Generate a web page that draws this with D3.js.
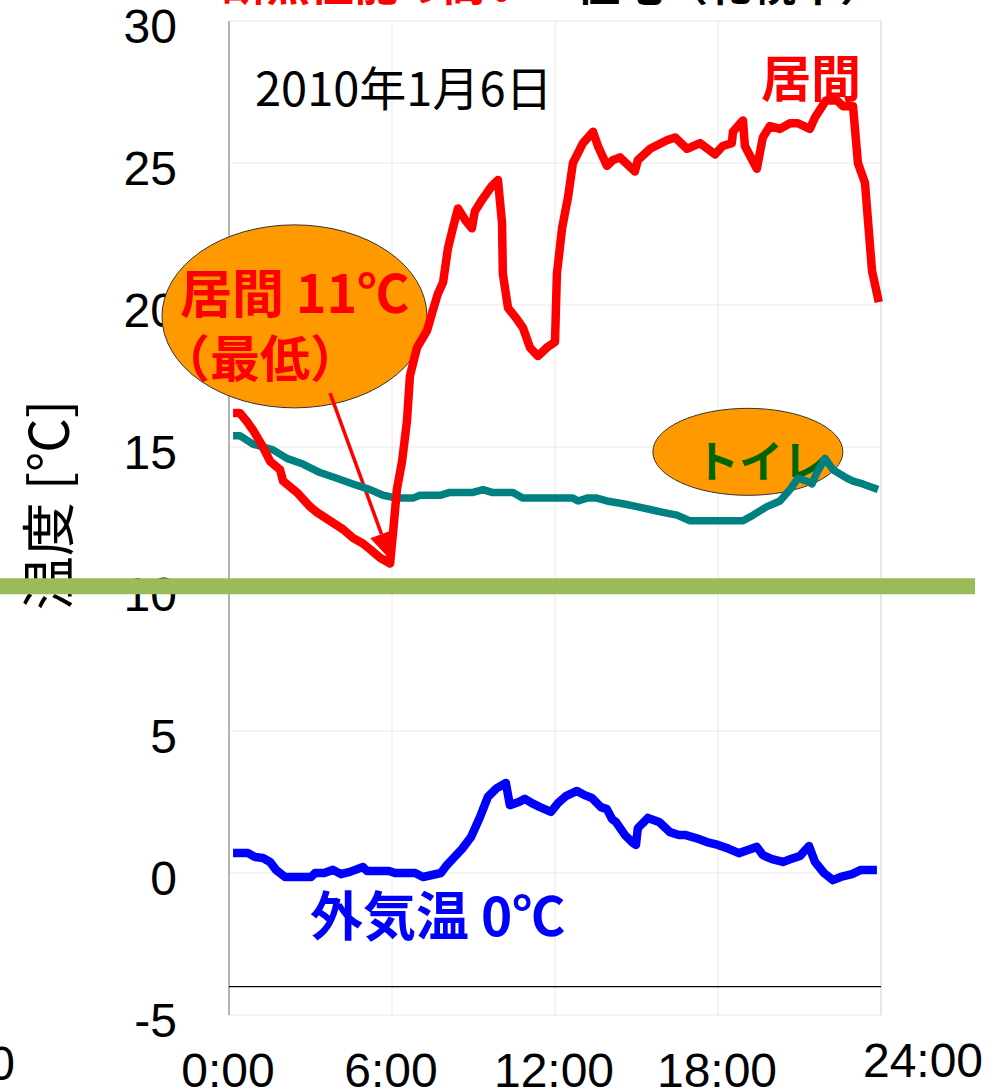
<!DOCTYPE html>
<html>
<head>
<meta charset="utf-8">
<script src="https://cdn.jsdelivr.net/npm/d3@7"></script>
<style>
  html, body { margin: 0; padding: 0; background: #fff; }
  svg { display: block; }
</style>
</head>
<body>
<svg id="chart" width="1007" height="1092"></svg>
<script>
// Living room (居間) temperature, hours since 0:00 and °C
const roomHours = [0.15,0.40,0.66,0.88,1.25,1.51,1.88,1.99,2.50,2.98,3.24,3.72,4.20,4.56,4.93,5.19,5.56,5.93,
  6.04,6.18,6.37,6.55,6.66,6.92,7.29,7.47,7.69,7.88,8.06,8.24,8.43,8.69,8.94,9.05,9.31,9.68,9.90,
  10.05,10.08,10.27,10.60,10.82,11.08,11.37,11.70,12.00,12.07,12.26,12.48,12.66,13.03,13.40,13.58,
  13.91,14.13,14.39,14.94,15.05,15.50,16.12,16.42,16.86,17.34,17.89,18.18,18.51,18.55,18.92,18.99,
  19.43,19.65,19.91,20.28,20.65,20.94,21.38,21.57,21.97,22.38,22.60,22.97,23.15,23.41,23.67,23.92];
const roomTemps = [16.2,16.2,15.9,15.6,15.0,14.5,14.2,13.8,13.4,12.9,12.7,12.4,12.1,11.8,11.6,11.4,11.1,10.9,
  12.0,13.5,14.5,15.9,17.5,18.5,19.1,19.7,20.4,20.8,22.0,22.7,23.4,23.0,22.7,23.3,23.7,24.2,24.4,
  22.9,21.1,19.9,19.5,19.2,18.5,18.2,18.5,18.7,21.1,22.7,23.8,25.0,25.7,26.1,25.6,
  24.9,25.1,25.2,24.7,25.1,25.5,25.8,25.9,25.5,25.7,25.3,25.6,25.7,26.1,26.5,25.6,
  24.8,25.9,26.3,26.2,26.4,26.4,26.2,26.6,27.2,27.2,27.0,27.0,25.0,24.3,21.2,20.1];

// Toilet (トイレ) temperature
const toiletHours = [0.15,0.40,0.88,1.62,2.13,2.72,3.35,3.97,4.56,5.19,5.67,6.18,6.77,7.03,7.77,8.13,8.98,
  9.35,9.68,10.45,10.82,11.56,12.66,12.85,13.18,13.54,13.91,14.50,15.02,15.50,15.97,16.49,16.97,
  17.81,18.92,19.29,19.80,20.28,20.65,20.94,21.27,21.46,21.64,21.94,22.23,22.75,22.97,23.33,23.89];
const toiletTemps = [15.4,15.4,15.1,14.9,14.6,14.4,14.1,13.9,13.7,13.5,13.3,13.2,13.2,13.3,13.3,13.4,13.4,
  13.5,13.4,13.4,13.2,13.2,13.2,13.1,13.2,13.2,13.1,13.0,12.9,12.8,12.7,12.6,12.4,
  12.4,12.4,12.6,12.9,13.1,13.5,13.9,13.8,13.7,14.1,14.6,14.2,13.9,13.8,13.7,13.5];

// Outdoor (外気温) temperature
const outdoorHours = [0.15,0.70,0.96,1.25,1.51,1.73,2.06,3.02,3.17,3.50,3.83,4.12,4.45,4.93,5.08,5.89,6.11,
  6.85,7.14,7.47,7.80,8.02,8.58,8.91,9.24,9.53,9.86,10.19,10.34,10.67,10.89,11.15,11.45,11.85,
  12.11,12.40,12.81,13.07,13.36,13.69,13.91,14.10,14.24,14.57,14.87,14.98,15.05,15.42,15.83,16.23,
  16.56,16.78,17.19,17.59,18.00,18.40,18.77,19.10,19.43,19.65,19.99,20.39,20.68,21.02,21.35,21.57,
  21.90,22.23,22.52,22.93,23.26,23.85];
const outdoorTemps = [0.7,0.7,0.56,0.53,0.39,0.11,-0.14,-0.14,0.0,0.0,0.11,-0.04,0.04,0.21,0.07,0.07,0.0,
  0.0,-0.14,-0.07,0.0,0.28,0.85,1.27,1.97,2.68,2.99,3.17,2.39,2.5,2.61,2.46,2.32,2.15,
  2.46,2.71,2.89,2.75,2.64,2.32,2.25,1.9,1.8,1.34,1.06,0.99,1.58,1.94,1.8,1.44,
  1.34,1.34,1.23,1.09,0.99,0.85,0.7,0.81,0.92,0.63,0.49,0.39,0.49,0.6,0.95,0.39,
  0.0,-0.25,-0.14,-0.04,0.11,0.11];

// Axis ticks
const yTicks = [-5, 0, 5, 10, 15, 20, 25, 30];
const xTickHours = [0, 6, 12, 18, 24];
const xTickLabels = ["0:00", "6:00", "12:00", "18:00", "24:00"];

// Reference lines
const thresholdTemp = 10.1;   // green band
const baseLineTemp = -4;      // thin black line

const svg = d3.select("#chart");
const x = d3.scaleLinear().domain([0, 24]).range([229, 881]);
const y = d3.scaleLinear().domain([-5, 30]).range([1015, 21]);

const numFont = "'Liberation Sans', Arial, sans-serif";
const jpFont = "'Noto Sans CJK JP', 'Noto Sans', sans-serif";

// Title (runs off the top edge)
const title = svg.append("text")
  .attr("x", 222).attr("y", 1)
  .attr("font-family", jpFont).attr("font-size", 44).attr("font-weight", "bold");
title.append("tspan").attr("fill", "#ff0000").text("断熱性能の高い");
title.append("tspan").attr("fill", "#000").attr("dx", 46).text("住宅（札幌市）");

// Gridlines
const grid = svg.append("g");
grid.selectAll("line.h").data(yTicks).join("line")
  .attr("x1", x(0)).attr("x2", x(24))
  .attr("y1", d => y(d)).attr("y2", d => y(d))
  .attr("stroke", "#e8e8e8").attr("stroke-width", 1);
grid.selectAll("line.v").data(xTickHours).join("line")
  .attr("x1", d => x(d)).attr("x2", d => x(d))
  .attr("y1", y(30)).attr("y2", y(-5))
  .attr("stroke", d => d === 24 ? "#cfcfcf" : "#e8e8e8").attr("stroke-width", 1);
// Left axis line
svg.append("line")
  .attr("x1", x(0)).attr("x2", x(0)).attr("y1", y(30)).attr("y2", y(-5))
  .attr("stroke", "#888").attr("stroke-width", 1.2);

// Y tick labels
svg.append("g").selectAll("text").data(yTicks).join("text")
  .attr("x", 177).attr("y", d => y(d) + 9)
  .attr("text-anchor", "end").attr("dominant-baseline", "middle")
  .attr("font-family", numFont).attr("font-size", 48).attr("fill", "#000")
  .text(d => d);

// X tick labels
svg.append("g").selectAll("text").data(xTickHours).join("text")
  .attr("x", (d, i) => i === 4 ? x(d) + 42 : x(d) - 1)
  .attr("y", (d, i) => i === 4 ? 1077 : 1087)
  .attr("text-anchor", "middle")
  .attr("font-family", numFont).attr("font-size", 48).attr("fill", "#000")
  .text((d, i) => xTickLabels[i]);

// Stray label at the left edge
svg.append("text").attr("x", 15).attr("y", 1080).attr("text-anchor", "end")
  .attr("font-family", numFont).attr("font-size", 48).text("0");

// Y axis title
svg.append("text")
  .attr("transform", "translate(45,505) rotate(-90)")
  .attr("text-anchor", "middle").attr("dominant-baseline", "central")
  .attr("font-family", jpFont).attr("font-size", 54).attr("fill", "#000")
  .text("温度 [℃]");

// Threshold band and base line
svg.append("line")
  .attr("x1", 0).attr("x2", 975).attr("y1", y(thresholdTemp)).attr("y2", y(thresholdTemp))
  .attr("stroke", "#9bbb59").attr("stroke-width", 16);
svg.append("line")
  .attr("x1", x(0)).attr("x2", x(24)).attr("y1", y(baseLineTemp)).attr("y2", y(baseLineTemp))
  .attr("stroke", "#000").attr("stroke-width", 1.2);

// Callout ellipses
svg.append("ellipse")
  .attr("cx", x(2.41)).attr("cy", y(19.6)).attr("rx", 132.5).attr("ry", 91.5)
  .attr("fill", "#ff9900").attr("stroke", "#333").attr("stroke-width", 1);
svg.append("ellipse")
  .attr("cx", x(19.1)).attr("cy", y(14.83)).attr("rx", 95).attr("ry", 43.5)
  .attr("fill", "#ff9900").attr("stroke", "#333").attr("stroke-width", 1);

// Callout texts
svg.append("text").attr("x", 180).attr("y", 290).attr("dominant-baseline", "central")
  .attr("font-family", jpFont).attr("font-size", 52).attr("font-weight", "bold").attr("fill", "#ff0000")
  .text("居間 11℃");
svg.append("text").attr("x", 160).attr("y", 355).attr("dominant-baseline", "central")
  .attr("font-family", jpFont).attr("font-size", 50).attr("font-weight", "bold").attr("fill", "#ff0000")
  .text("（最低）");
svg.append("text").attr("x", 761).attr("y", 459).attr("text-anchor", "middle").attr("dominant-baseline", "central")
  .attr("font-family", jpFont).attr("font-size", 44).attr("font-weight", "bold").attr("fill", "#006600")
  .text("トイレ");

// Arrow to the living-room minimum
const minIdx = d3.minIndex(roomTemps);
const tip = [x(roomHours[minIdx]) + 1, y(roomTemps[minIdx]) - 3];
const start = [x(3.72), y(16.9)];
const ang = Math.atan2(tip[1] - start[1], tip[0] - start[0]);
const headLen = 28, headHalf = 12;
const base = [tip[0] - headLen * Math.cos(ang), tip[1] - headLen * Math.sin(ang)];
svg.append("line")
  .attr("x1", start[0]).attr("y1", start[1]).attr("x2", base[0]).attr("y2", base[1])
  .attr("stroke", "#ff0000").attr("stroke-width", 3.5);
svg.append("path")
  .attr("d", d3.line()([
    tip,
    [base[0] + headHalf * Math.sin(ang), base[1] - headHalf * Math.cos(ang)],
    [base[0] - headHalf * Math.sin(ang), base[1] + headHalf * Math.cos(ang)]
  ]) + "Z")
  .attr("fill", "#ff0000");

// Series lines
const line = d3.line().x(d => x(d[0])).y(d => y(d[1]));
const series = [
  { hours: toiletHours, temps: toiletTemps, color: "#008080", width: 7.5 },
  { hours: outdoorHours, temps: outdoorTemps, color: "#0000ff", width: 8.5 },
  { hours: roomHours, temps: roomTemps, color: "#ff0000", width: 8.5 }
];
series.forEach(s => {
  svg.append("path")
    .datum(d3.zip(s.hours, s.temps))
    .attr("d", line)
    .attr("fill", "none")
    .attr("stroke", s.color).attr("stroke-width", s.width)
    .attr("stroke-linejoin", "round");
});

// Labels
svg.append("text").attr("x", 255).attr("y", 85).attr("dominant-baseline", "central")
  .attr("font-family", jpFont).attr("font-size", 47).attr("fill", "#000")
  .text("2010年1月6日");
svg.append("text").attr("x", 811).attr("y", 75).attr("text-anchor", "middle").attr("dominant-baseline", "central")
  .attr("font-family", jpFont).attr("font-size", 50).attr("font-weight", "bold").attr("fill", "#ff0000")
  .text("居間");
svg.append("text").attr("x", 310).attr("y", 913).attr("dominant-baseline", "central")
  .attr("font-family", jpFont).attr("font-size", 53).attr("font-weight", "bold").attr("fill", "#0000ff")
  .text("外気温 0℃");
</script>
</body>
</html>
